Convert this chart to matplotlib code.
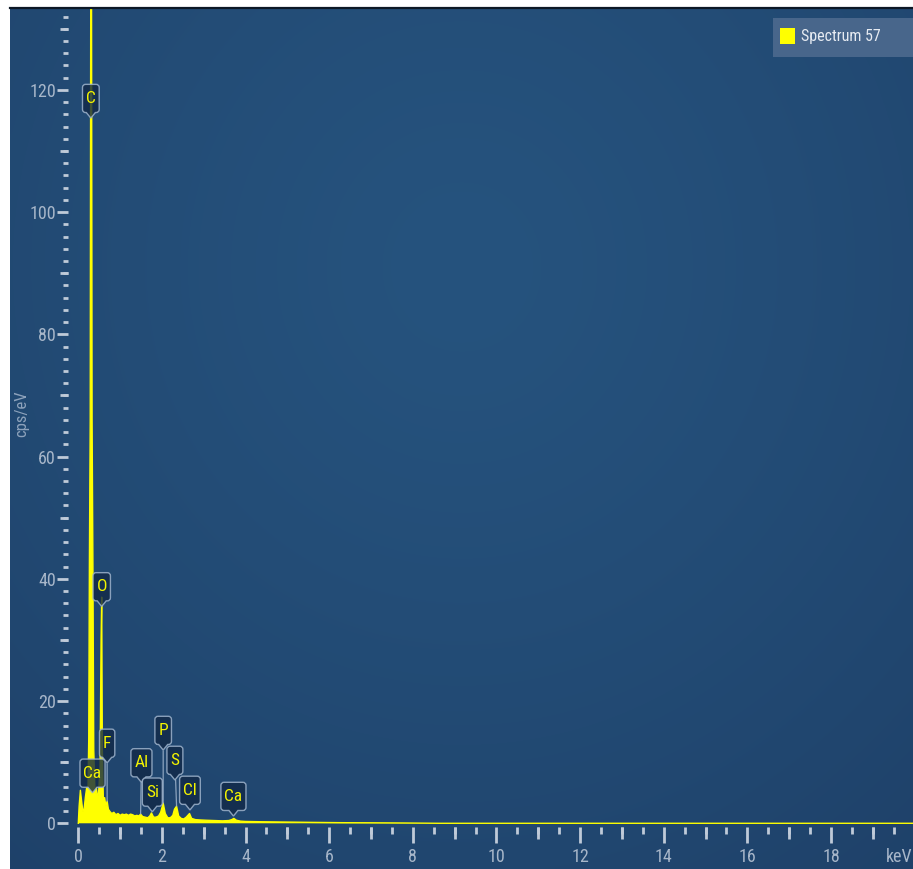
import numpy as np
import matplotlib
matplotlib.use("Agg")
import matplotlib.pyplot as plt
from matplotlib import font_manager as fm
from matplotlib.ticker import FixedLocator, NullFormatter
from matplotlib.patches import Rectangle, Patch
from matplotlib.lines import Line2D
from matplotlib.path import Path

# ---- spectrum data (energy in keV, intensity in cps/eV) ----
energy_kev = [
    0.00, 0.02, 0.05, 0.08, 0.11, 0.14, 0.17, 0.20, 0.23, 0.25,
    0.265, 0.285, 0.30, 0.31, 0.32, 0.33, 0.35, 0.37, 0.40, 0.43,
    0.46, 0.49, 0.52, 0.545, 0.56, 0.575, 0.60, 0.63, 0.66, 0.69,
    0.72, 0.76, 0.80, 0.85, 0.90, 0.95, 1.00, 1.05, 1.10, 1.15,
    1.20, 1.25, 1.30, 1.35, 1.40, 1.45, 1.49, 1.54, 1.60, 1.66,
    1.71, 1.75, 1.80, 1.86, 1.92, 1.97, 2.03, 2.08, 2.14, 2.20,
    2.26, 2.30, 2.35, 2.40, 2.46, 2.52, 2.58, 2.62, 2.66, 2.71,
    2.80, 2.90, 3.05, 3.25, 3.45, 3.60, 3.67, 3.72, 3.78, 3.88,
    4.00, 4.40, 5.00, 5.60, 6.30, 7.00, 7.80, 8.60, 20.0,
]
counts_cps = [
    0.0, 2.8, 5.4, 3.6, 1.9, 2.4, 4.3, 5.8, 4.6, 14,
    42, 66, 150, 170, 120, 66, 42, 12, 4.8, 5.9,
    3.8, 5.5, 9.0, 30, 37, 12, 3.6, 4.2, 2.8, 3.6,
    2.3, 1.9, 1.6, 1.8, 1.4, 1.6, 1.3, 1.5, 1.4, 1.5,
    1.3, 1.5, 1.4, 1.2, 1.3, 1.2, 1.5, 1.1, 1.0, 0.9,
    1.2, 1.7, 1.0, 1.0, 1.2, 1.8, 3.3, 1.6, 0.9, 0.9,
    1.3, 2.3, 2.8, 1.2, 0.8, 0.7, 1.0, 1.3, 1.6, 0.8,
    0.6, 0.55, 0.5, 0.45, 0.4, 0.45, 0.6, 0.8, 0.5, 0.35,
    0.3, 0.25, 0.2, 0.15, 0.1, 0.08, 0.05, 0.0, 0.0,
]

# identified lines: element symbol and line energy (keV)
element_names = ["C", "O", "F", "Ca", "Al", "Si", "P", "S", "Cl", "Ca"]
element_kev = [0.31, 0.56, 0.69, 0.34, 1.49, 1.75, 2.03, 2.35, 2.66, 3.72]

x_major_ticks = [0, 2, 4, 6, 8, 10, 12, 14, 16, 18]
y_major_ticks = [0, 20, 40, 60, 80, 100, 120]
series_name = "Spectrum 57"

# ---- styling: prefer a narrow sans face ----
_fonts = fm.fontManager.ttflist
_names = {f.name for f in _fonts}
FONT, STRETCH = ["Roboto", "DejaVu Sans"], "normal"
for cand in ["Roboto Condensed", "Liberation Sans Narrow", "Open Sans Condensed",
             "Noto Sans Condensed"]:
    if cand in _names:
        FONT = [cand, "DejaVu Sans"]
        break
else:
    for fam in ["Noto Sans", "Open Sans", "DejaVu Sans"]:
        if any(f.name == fam and "condensed" in str(f.stretch) for f in _fonts):
            FONT, STRETCH = [fam, "DejaVu Sans"], "condensed"
            break
plt.rcParams["font.family"] = FONT
plt.rcParams["font.stretch"] = STRETCH

TICK_COLOR = "#bfcad8"
LABEL_COLOR = "#a7b6c9"
YELLOW = "#ffff00"
BOX_EDGE = (0.62, 0.70, 0.80, 0.85)
BOX_FACE = (0.07, 0.16, 0.28, 0.80)


def tag_box(x0, y0, width, height, mutation_size):
    """Rounded label tag with a small pointer under its bottom edge."""
    px, py = 0.20 * mutation_size, 0.38 * mutation_size
    r = 0.18 * mutation_size
    tip, half = 0.32 * mutation_size, 0.26 * mutation_size
    L, R = x0 - px, x0 + width + px
    B, T = y0 - py, y0 + height + py
    cx = x0 + width / 2
    verts = [(L + r, B), (cx - half, B), (cx, B - tip), (cx + half, B), (R - r, B),
             (R, B), (R, B + r), (R, T - r), (R, T), (R - r, T), (L + r, T),
             (L, T), (L, T - r), (L, B + r), (L, B), (L + r, B), (L + r, B)]
    codes = ([Path.MOVETO] + [Path.LINETO] * 4 + [Path.CURVE3] * 2 + [Path.LINETO]
             + [Path.CURVE3] * 2 + [Path.LINETO] + [Path.CURVE3] * 2 + [Path.LINETO]
             + [Path.CURVE3] * 2 + [Path.CLOSEPOLY])
    return Path(verts, codes)


W, H = 913, 869
fig = plt.figure(figsize=(W / 100, H / 100), dpi=100)
fig.patch.set_facecolor("white")

ax = fig.add_axes([10 / W, 0, 903 / W, 861 / H])
XLIM = (-1.633, 19.96)
YLIM = (-7.48, 133.4)

# soft radial background
ny, nx = 240, 240
yy, xx = np.mgrid[0:1:ny * 1j, 0:1:nx * 1j]
r = np.sqrt(((xx - 0.50) / 0.85) ** 2 + ((yy - 0.70) / 0.95) ** 2)
t = np.clip(r, 0, 1)[..., None] ** 1.3
c_in = np.array([38, 83, 126]) / 255
c_out = np.array([30, 64, 104]) / 255
ax.imshow(c_in * (1 - t) + c_out * t, extent=(0, 1, 0, 1), transform=ax.transAxes,
          origin="lower", aspect="auto", zorder=0, interpolation="bilinear")

# spectrum
ax.fill_between(energy_kev, 0, counts_cps, color=YELLOW, lw=0, zorder=3)
ax.plot(energy_kev, counts_cps, color=YELLOW, lw=1.0, zorder=3)

ax.set_xlim(*XLIM)
ax.set_ylim(*YLIM)
ax.patch.set_visible(False)

# axes: spines hidden, ticks offset into the panel
y_axis_at = -0.239
x_axis_at = -0.55
for s in ax.spines.values():
    s.set_visible(False)
ax.spines["left"].set_position(("data", y_axis_at))
ax.spines["bottom"].set_position(("data", x_axis_at))

ax.yaxis.set_major_locator(FixedLocator(y_major_ticks))
ax.yaxis.set_minor_locator(FixedLocator(np.arange(0, 133, 2)))
ax.xaxis.set_major_locator(FixedLocator(x_major_ticks))
ax.xaxis.set_minor_locator(FixedLocator(np.arange(0, 20, 0.5)))
ax.xaxis.set_minor_formatter(NullFormatter())
ax.yaxis.set_minor_formatter(NullFormatter())

ax.tick_params(axis="y", which="major", direction="out", length=7.9, width=2.0,
               color=TICK_COLOR, labelcolor=LABEL_COLOR, labelsize=13, pad=1)
ax.tick_params(axis="y", which="minor", direction="out", length=3.6, width=2.0,
               color=TICK_COLOR)
ax.tick_params(axis="x", which="major", direction="out", length=11.8, width=2.0,
               color=TICK_COLOR, labelcolor=LABEL_COLOR, labelsize=13, pad=3.5)
ax.tick_params(axis="x", which="minor", direction="out", length=4.8, width=2.0,
               color=TICK_COLOR)

# medium ticks at the odd decades / odd keV
fy = (y_axis_at - XLIM[0]) / (XLIM[1] - XLIM[0])
sec_y = ax.secondary_yaxis(fy)
sec_y.set_yticks(np.arange(10, 134, 20))
sec_y.tick_params(length=5.8, width=2.0, color=TICK_COLOR, labelleft=False, labelright=False)
for s in sec_y.spines.values():
    s.set_visible(False)

fx = (x_axis_at - YLIM[0]) / (YLIM[1] - YLIM[0])
sec_x = ax.secondary_xaxis(fx)
sec_x.set_xticks(np.arange(1, 20, 2))
sec_x.tick_params(length=8.6, width=2.0, color=TICK_COLOR, labelbottom=False, labeltop=False)
for s in sec_x.spines.values():
    s.set_visible(False)

ax.set_ylabel("cps/eV", color="#8ea3bc", fontsize=12)
ax.yaxis.set_label_coords((29 - 10) / 903, (869 - 414) / 861)
ax.set_xlabel("keV", color=LABEL_COLOR, fontsize=13, ha="right", va="center")
ax.xaxis.set_label_coords((912 - 10) / 903, (869 - 857) / 861)

# element markers: label placement (keV, cps/eV)
label_pos = [(0.30, 118.6), (0.56, 38.7), (0.69, 13.1), (0.34, 8.2), (1.51, 9.9),
             (1.77, 5.1), (2.03, 15.2), (2.31, 10.3), (2.67, 5.4), (3.71, 4.4)]
for name, kev, (lx, ly) in zip(element_names, element_kev, label_pos):
    tip = float(np.interp(kev, energy_kev, counts_cps))
    arrow = None
    if tip < ly - 4:
        arrow = dict(arrowstyle="-", color=BOX_EDGE, lw=0.9, shrinkA=0, shrinkB=0)
    else:
        tip = ly
    ax.annotate(name, xy=(kev, tip), xytext=(lx, ly), ha="center", va="center",
                color="#f4f400", fontsize=12.5, zorder=5,
                bbox=dict(boxstyle=tag_box, fc=BOX_FACE, ec=BOX_EDGE, lw=1.0),
                arrowprops=arrow)

# series key in the upper right corner
fig.add_artist(Rectangle((773 / W, 1 - 57 / H), 140 / W, 39 / H,
                         transform=fig.transFigure, fc="#48668b", ec="none", zorder=4))
leg = fig.legend(handles=[Patch(facecolor=YELLOW, edgecolor="none", label=series_name)],
                 loc="center left", bbox_to_anchor=(780 / W, 1 - 36 / H),
                 bbox_transform=fig.transFigure, frameon=False, borderpad=0,
                 borderaxespad=0, handlelength=15 / 16, handleheight=20 / 16,
                 handletextpad=0.4, fontsize=11.5)
for txt in leg.get_texts():
    txt.set_color("#e6ebf2")
leg.set_zorder(6)

# thin dark rule along the top edge of the panel
fig.add_artist(Line2D([10 / W, 1], [1 - 8 / H, 1 - 8 / H], transform=fig.transFigure,
                      color="#0c1826", lw=1.6))

fig.savefig("out.png", dpi=100)
